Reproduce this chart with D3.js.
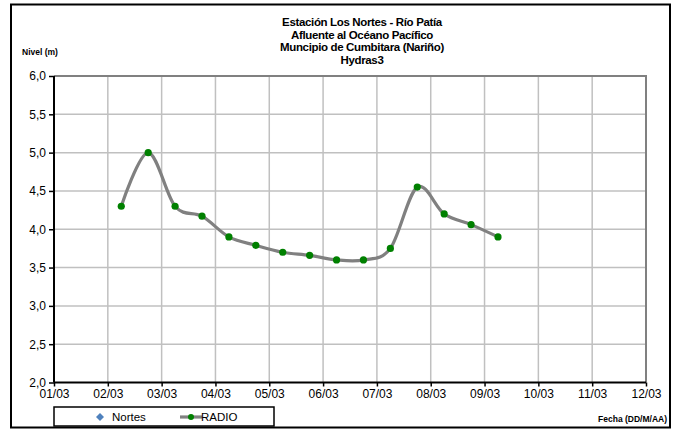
<!DOCTYPE html>
<html><head><meta charset="utf-8">
<script src="https://cdn.jsdelivr.net/npm/d3@7"></script>
<style>body{margin:0;background:#fff}svg{display:block}text{font-family:"Liberation Sans",Arial,sans-serif}</style>
</head><body>
<svg id="c" width="679" height="431"></svg>
<script>
const titleLines = ["Estación Los Nortes  - Río Patía","Afluente al Océano Pacífico","Muncipio de Cumbitara (Nariño)","Hydras3"];
const xTickLabels = ["01/03","02/03","03/03","04/03","05/03","06/03","07/03","08/03","09/03","10/03","11/03","12/03"];
const yTicks = [2.0,2.5,3.0,3.5,4.0,4.5,5.0,5.5,6.0];
// times as day offsets from 01/03 00:00
const radioTimes = [1.25,1.75,2.25,2.75,3.25,3.75,4.25,4.75,5.25,5.75,6.25,6.75,7.25,7.75,8.25];
const radioValues = [4.30,5.00,4.30,4.17,3.90,3.79,3.70,3.66,3.60,3.60,3.75,4.55,4.20,4.06,3.90];
const nortesValues = [];

const svg = d3.select("#c");
const L=54, R=646, T=76, B=382.5;
const x = d3.scaleLinear().domain([0,11]).range([L,R]);
const y = d3.scaleLinear().domain([2,6]).range([B,T]);

// outer border
svg.append("rect").attr("x",11).attr("y",4.5).attr("width",659).attr("height",423)
  .attr("fill","none").attr("stroke","#000").attr("stroke-width",2);

// gridlines
const g = svg.append("g");
g.selectAll(".hg").data(yTicks.slice(1)).join("line")
  .attr("x1",L).attr("x2",R).attr("y1",d=>y(d)).attr("y2",d=>y(d))
  .attr("stroke","#c0c0c0").attr("stroke-width",1.5);
g.selectAll(".vg").data(d3.range(1,11)).join("line")
  .attr("x1",d=>x(d)).attr("x2",d=>x(d)).attr("y1",T).attr("y2",B)
  .attr("stroke","#c0c0c0").attr("stroke-width",1.5);
// plot area top/right border
svg.append("path").attr("d",`M${L},${T}H${R}V${B}`).attr("fill","none").attr("stroke","#808080").attr("stroke-width",2);

// axes
const yAxis = d3.axisLeft(y).tickValues(yTicks).tickSize(5).tickPadding(3)
  .tickFormat(d=>d3.format(".1f")(d).replace(".",","));
const ya = svg.append("g").attr("transform",`translate(${L},0)`).call(yAxis);
const xAxis = d3.axisBottom(x).tickValues(d3.range(0,12)).tickSize(4).tickPadding(3)
  .tickFormat(i=>xTickLabels[i]);
const xa = svg.append("g").attr("transform",`translate(0,${B})`).call(xAxis);
[ya,xa].forEach(a=>{
  a.select(".domain").attr("stroke","#000").attr("stroke-width",2);
  a.selectAll(".tick line").attr("stroke","#000").attr("stroke-width",1.5);
  a.selectAll("text").attr("font-size",12).attr("fill","#000");
});
ya.select(".domain").attr("d",`M0,${T}V${B}`);
xa.select(".domain").attr("d",`M${L},0H${R}`);

// line
const pts = radioTimes.map((t,i)=>[t,radioValues[i]]);
const line = d3.line().x(d=>x(d[0])).y(d=>y(d[1])).curve(d3.curveCardinal.tension(0));
svg.append("path").attr("d",line(pts)).attr("fill","none").attr("stroke","#808080").attr("stroke-width",3.2);
svg.selectAll(".pt").data(pts).join("circle").attr("cx",d=>x(d[0])).attr("cy",d=>y(d[1])).attr("r",3.6).attr("fill","#008000");

// titles
svg.append("text").attr("text-anchor","middle").attr("font-weight","bold").attr("font-size",11.5).attr("letter-spacing",-0.35)
  .selectAll("tspan").data(titleLines).join("tspan").attr("x",362).attr("y",(d,i)=>26+i*12.5).text(d=>d);
svg.append("text").attr("x",22).attr("y",55).attr("font-size",8.5).attr("font-weight","bold").text("Nivel (m)");
svg.append("text").attr("x",667).attr("y",422).attr("text-anchor","end").attr("font-size",8.5).attr("font-weight","bold").text("Fecha (DD/M/AA)");

// legend
const lg = svg.append("g");
lg.append("rect").attr("x",54).attr("y",407).attr("width",220).attr("height",19).attr("fill","#fff").attr("stroke","#000").attr("stroke-width",1.5);
lg.append("path").attr("d","M100,413L104,417L100,421L96,417Z").attr("fill","#4f81bd");
lg.append("text").attr("x",112).attr("y",421).attr("font-size",11.5).text("Nortes");
lg.append("line").attr("x1",180).attr("x2",202).attr("y1",417).attr("y2",417).attr("stroke","#808080").attr("stroke-width",3.2);
lg.append("circle").attr("cx",191).attr("cy",417).attr("r",3).attr("fill","#008000");
lg.append("text").attr("x",201).attr("y",421).attr("font-size",11.5).text("RADIO");
</script>
</body></html>
